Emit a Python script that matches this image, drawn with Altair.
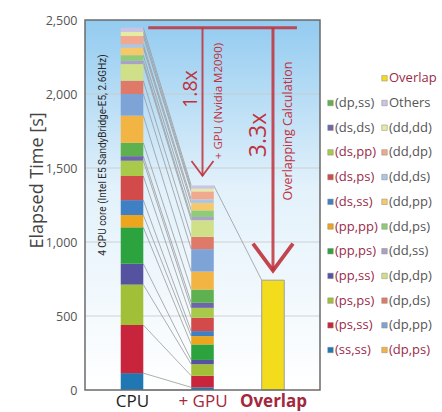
import altair as alt
import pandas as pd

# Kernel classes, stacked from the bottom of each bar to the top
kernels = ["(ss,ss)", "(ps,ss)", "(ps,ps)", "(pp,ss)", "(pp,ps)", "(pp,pp)",
           "(ds,ss)", "(ds,ps)", "(ds,pp)", "(ds,ds)", "(dp,ss)", "(dp,ps)",
           "(dp,pp)", "(dp,ds)", "(dp,dp)", "(dd,ss)", "(dd,ps)", "(dd,pp)",
           "(dd,ds)", "(dd,dp)", "(dd,dd)", "Others"]
cpu_seconds = [114, 325, 273, 141, 246, 83, 101, 163, 103, 31, 90,
               184, 146, 90, 112, 22, 38, 52, 22, 56, 27, 29]
gpu_seconds = [18, 78, 78, 29, 105, 56, 34, 90, 67, 34, 90,
               121, 152, 83, 112, 22, 45, 49, 25, 54, 18, 22]
overlap_seconds = 742
kernel_colors = ["#1f78b4", "#c8243c", "#a2c037", "#5553a0", "#2ca33e", "#eda51c",
                 "#3f7fc4", "#d24a4a", "#a8c94a", "#6e66aa", "#5fb04f", "#f2b544",
                 "#7ea3d6", "#e07a68", "#d0e088", "#ab9fcc", "#8fcc78", "#f6c86a",
                 "#a9c6e6", "#f0a98f", "#e6eba4", "#cbc3e3"]
overlap_color = "#f3dc1b"
# kernels offloaded to the GPU (legend labels drawn in maroon)
gpu_kernels = ["(ss,ss)", "(ps,ss)", "(ps,ps)", "(pp,ss)", "(pp,ps)", "(pp,pp)",
               "(ds,ss)", "(ds,ps)", "(ds,pp)", "(dp,ps)", "Overlap"]
runs = ["CPU", "+ GPU", "Overlap"]
y_ticks = [0, 500, 1000, 1500, 2000, 2500]
grid_values = [500, 1000, 1500, 2000]

W, H = 235, 370
X_MIN, X_MAX = -0.667, 2.667
Y_MAX = 2500
BAR_HALF = 0.16
TIP_GAP = 65
RED = "#c0313b"
MAROON = "#9b2a48"
GREY = "#555555"
FONT = "Open Sans"

x_scale = alt.Scale(domain=[X_MIN, X_MAX], nice=False, zero=False)
y_scale = alt.Scale(domain=[0, Y_MAX], nice=False)

cpu_total = sum(cpu_seconds)
gpu_total = sum(gpu_seconds)

# stacked segments
seg_rows = []
for run_i, secs in ((0, cpu_seconds), (1, gpu_seconds)):
    base = 0
    for k, s in zip(kernels, secs):
        seg_rows.append({"run": run_i, "kernel": k, "y0": base, "y1": base + s})
        base += s
segments = pd.DataFrame(seg_rows)

# connectors between matching boundaries of the two stacks
cum_cpu, cum_gpu = [0], [0]
for c, g in zip(cpu_seconds, gpu_seconds):
    cum_cpu.append(cum_cpu[-1] + c)
    cum_gpu.append(cum_gpu[-1] + g)
links = pd.DataFrame({
    "xa": [0 + BAR_HALF] * len(cum_cpu) + [1 + BAR_HALF],
    "xb": [1 - BAR_HALF] * len(cum_cpu) + [2 - BAR_HALF],
    "ya": cum_cpu + [gpu_total],
    "yb": cum_gpu + [overlap_seconds],
})

background = alt.Chart(pd.DataFrame({"a": [0]})).mark_rect(
    fill={"gradient": "linear", "x1": 0, "y1": 0, "x2": 0, "y2": 1,
          "stops": [{"offset": 0, "color": "#93cbf0"},
                    {"offset": 0.45, "color": "#e2f1fb"},
                    {"offset": 1, "color": "#ffffff"}]}
).encode(x=alt.value(0), x2=alt.value(W), y=alt.value(0), y2=alt.value(H))

x_axis = alt.Axis(
    values=[0, 1, 2],
    labelExpr="[" + ",".join("'" + r + "'" for r in runs) + "][datum.value]",
    labelFont=FONT, labelFontSize=17, labelPadding=3, labelFlush=False,
    labelColor={"condition": {"test": "datum.value == 0", "value": "#1e1e1e"}, "value": "#a3283e"},
    labelFontWeight={"condition": {"test": "datum.value == 2", "value": "bold"}, "value": "normal"},
    ticks=False, domain=False, grid=False, title=None,
)
y_axis = alt.Axis(
    values=y_ticks, labelExpr="format(datum.value, ',')",
    labelFont=FONT, labelFontSize=12.5, labelColor=GREY,
    labelPadding=8, ticks=False, domain=False, grid=False,
    title="Elapsed Time [s]", titleFont=FONT, titleFontSize=18,
    titleFontWeight="normal", titleColor="#444444", titleAngle=270,
    titleX=-48, titleY=160, titleAlign="center", titleBaseline="middle",
)

grid = alt.Chart(pd.DataFrame({"g": grid_values})).mark_rule(
    color="#c8c8c8", strokeWidth=1, opacity=0.8
).encode(y=alt.Y("g:Q", scale=y_scale, axis=y_axis))

connectors = alt.Chart(links).mark_rule(color="#999999", strokeWidth=0.8).encode(
    x=alt.X("xa:Q", scale=x_scale, axis=x_axis), x2="xb:Q",
    y=alt.Y("ya:Q", scale=y_scale, axis=y_axis), y2="yb:Q",
)

bars = alt.Chart(segments).transform_calculate(
    xl=f"datum.run - {BAR_HALF}", xr=f"datum.run + {BAR_HALF}"
).mark_bar().encode(
    x=alt.X("xl:Q", scale=x_scale, axis=x_axis),
    x2="xr:Q",
    y=alt.Y("y0:Q", scale=y_scale, axis=y_axis),
    y2="y1:Q",
    color=alt.Color("kernel:N", scale=alt.Scale(domain=kernels, range=kernel_colors), legend=None),
)

overlap_bar = alt.Chart(pd.DataFrame({"run": [2], "t": [overlap_seconds]})).transform_calculate(
    xl=f"datum.run - {BAR_HALF}", xr=f"datum.run + {BAR_HALF}"
).mark_bar(fill=overlap_color, stroke="#9e9e9e", strokeWidth=1).encode(
    x=alt.X("xl:Q", scale=x_scale, axis=x_axis), x2="xr:Q",
    y=alt.Y("t:Q", scale=y_scale, axis=y_axis), y2=alt.datum(0),
)

# speed-up arrows
top_line = alt.Chart(pd.DataFrame({"xa": [0.23], "xb": [2.34], "y": [cpu_total]})).mark_rule(
    color=RED, strokeWidth=3, opacity=0.85
).encode(x=alt.X("xa:Q", scale=x_scale, axis=x_axis), x2="xb:Q",
         y=alt.Y("y:Q", scale=y_scale, axis=y_axis))

arrows = pd.DataFrame({
    "x": [1, 2],
    "y_from": [cpu_total, cpu_total],
    "y_to": [gpu_total + TIP_GAP, overlap_seconds + TIP_GAP],
})
arrow_layers = []
for i, (lw, head, hw) in enumerate(((2, 484, 1.8), (3, 1600, 3.8))):
    one = arrows.iloc[[i]]
    arrow_layers.append(alt.Chart(one).mark_rule(color=RED, strokeWidth=lw, opacity=0.85).encode(
        x=alt.X("x:Q", scale=x_scale, axis=x_axis),
        y=alt.Y("y_from:Q", scale=y_scale, axis=y_axis), y2="y_to:Q"))
    arrow_layers.append(alt.Chart(one).mark_point(
        shape="M-1,-1.35L0,0L1,-1.35", filled=False, size=head, strokeWidth=hw,
        color=RED, opacity=0.9, strokeJoin="miter"
    ).encode(x=alt.X("x:Q", scale=x_scale, axis=x_axis),
             y=alt.Y("y_to:Q", scale=y_scale, axis=y_axis)))

gpu_ratio = f"{cpu_total / gpu_total:.1f}x"
overlap_ratio = f"{cpu_total / overlap_seconds:.1f}x"


def vtext(label, px, py, size, color=RED, font=FONT):
    return alt.Chart(pd.DataFrame({"t": [label]})).mark_text(
        angle=270, align="center", baseline="middle", font=font, fontSize=size, color=color
    ).encode(text="t:N", x=alt.value(px), y=alt.value(py))


texts = [
    vtext(gpu_ratio, 106, 69, 19.5),
    vtext("+ GPU (Nvidia M2090)", 134, 81, 11.5),
    vtext(overlap_ratio, 174, 115, 23),
    vtext("Overlapping Calculation", 203, 111, 12.5),
    vtext("4 CPU core (Intel E5 SandyBridge-E5, 2.6GHz)", 18, 135, 10, "#2a2a2a", "Roboto"),
]

frame = alt.Chart(pd.DataFrame({"a": [0]})).mark_rect(
    fill="transparent", stroke="#6b6b6b", strokeWidth=1.5
).encode(x=alt.value(0), x2=alt.value(W), y=alt.value(0), y2=alt.value(H))

# two-column key beside the plot: pixel offsets converted to the shared scales
half = len(kernels) // 2
leg_rows = []
for i, k in enumerate(kernels):
    col = 0 if i < half else 1
    row = (half - 1 - i) if i < half else (len(kernels) - 1 - i)
    leg_rows.append({"label": k, "color": kernel_colors[i], "col": col, "row": row})
leg_rows.append({"label": "Overlap", "color": overlap_color, "col": 1, "row": -1})
legend_df = pd.DataFrame(leg_rows)
legend_df["tcolor"] = [MAROON if l in gpu_kernels else GREY for l in legend_df["label"]]

px_to_x = f"* {(X_MAX - X_MIN) / W} + {X_MIN}"
legend_base = alt.Chart(legend_df).transform_calculate(
    px="245.5 + datum.col * 54",
    py="83 + datum.row * 24.7",
).transform_calculate(
    sx=f"datum.px {px_to_x}",
    tx=f"(datum.px + 4.5) {px_to_x}",
    sy=f"({H} - datum.py) * {Y_MAX / H}",
)
legend_sq = legend_base.mark_square(size=30, stroke="#8a8a8a", strokeWidth=0.5, opacity=1).encode(
    x=alt.X("sx:Q", scale=x_scale, axis=x_axis), y=alt.Y("sy:Q", scale=y_scale, axis=y_axis),
    fill=alt.Fill("color:N", scale=None),
)
legend_tx = legend_base.mark_text(
    align="left", baseline="middle", font=FONT, fontSize=13
).encode(
    x=alt.X("tx:Q", scale=x_scale, axis=x_axis), y=alt.Y("sy:Q", scale=y_scale, axis=y_axis),
    text="label:N", fill=alt.Fill("tcolor:N", scale=None),
)

chart = alt.layer(
    background, grid, connectors, bars, overlap_bar, top_line, *arrow_layers,
    *texts, frame, legend_sq, legend_tx
).properties(
    width=W, height=H,
    autosize=alt.AutoSizeParams(type="none"),
    padding={"left": 85, "top": 20, "right": 122, "bottom": 22},
    background="white",
).configure_view(stroke=None)

chart.save("out.html", embed_options={"renderer": "svg", "actions": False})
